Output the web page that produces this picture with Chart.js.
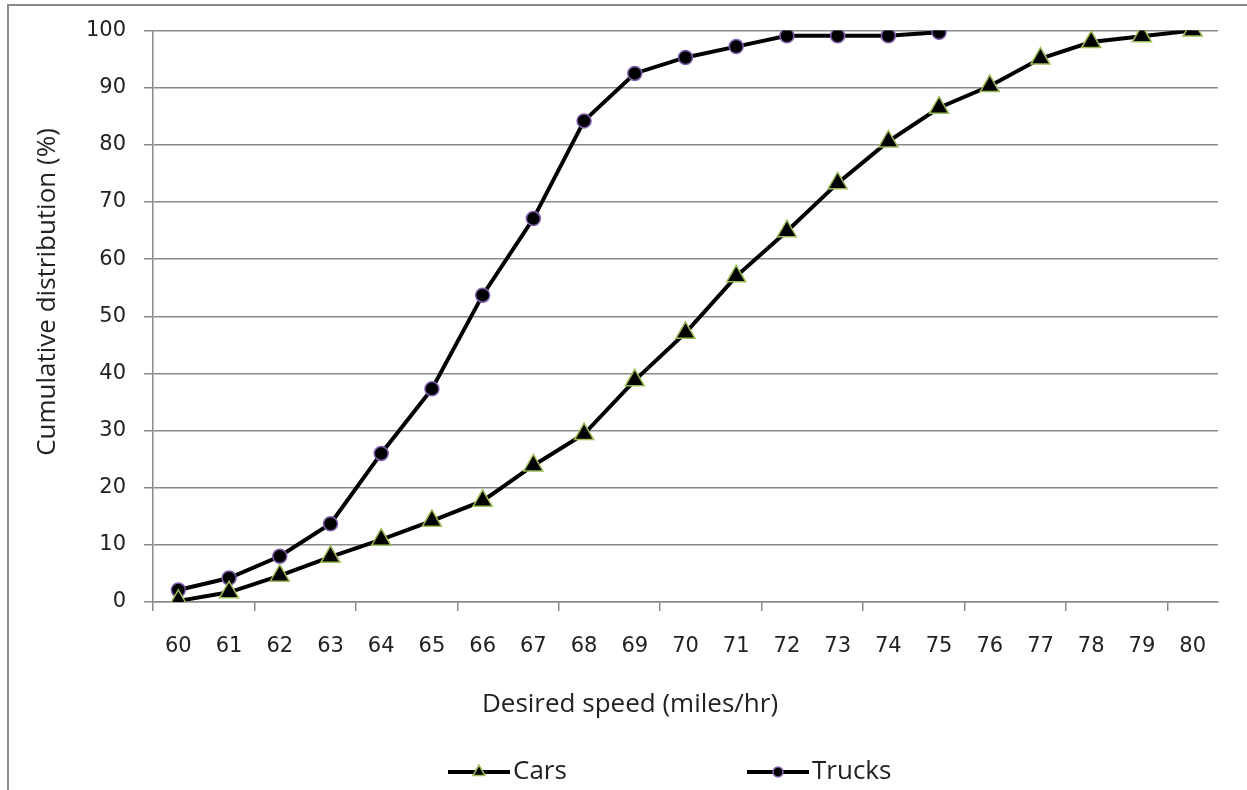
<!DOCTYPE html>
<html>
<head>
<meta charset="utf-8">
<script src="https://cdn.jsdelivr.net/npm/chart.js@4.4.1/dist/chart.umd.min.js"></script>
<style>
  body { margin: 0; background: #fff; }
</style>
</head>
<body>
<canvas id="grafico" width="1247" height="790"></canvas>
<script>
// velocidades (mph) e distribuições acumuladas (%)
const velocidades = ['60', '61', '62', '63', '64', '65', '66', '67', '68', '69', '70',
  '71', '72', '73', '74', '75', '76', '77', '78', '79', '80'];
const carros = [0.2, 1.7, 4.6, 7.9, 10.9, 14.2, 17.7, 23.9, 29.4, 38.8, 47.1,
  57.0, 64.9, 73.3, 80.6, 86.5, 90.3, 95.1, 98.0, 99.0, 100];
const caminhoes = [2.1, 4.2, 8.0, 13.7, 26.0, 37.3, 53.7, 67.1, 84.2, 92.5, 95.3,
  97.2, 99.1, 99.1, 99.1, 99.7];
const eixoY = { min: 0, max: 100, passo: 10 };
const tituloX = 'Desired speed (miles/hr)';
const tituloY = 'Cumulative distribution (%)';

const CINZA = '#8a8a8a';
const TEXTO = '#222';
const FONTE_TITULO = '26px "Open Sans"';

// moldura do gráfico (só topo e lado esquerdo aparecem)
const moldura = {
  id: 'moldura',
  beforeDraw(chart) {
    const ctx = chart.ctx;
    ctx.save();
    ctx.fillStyle = '#fff';
    ctx.fillRect(0, 0, chart.width, chart.height);
    ctx.strokeStyle = CINZA;
    ctx.lineWidth = 2;
    ctx.beginPath();
    ctx.moveTo(8, chart.height);
    ctx.lineTo(8, 5);
    ctx.lineTo(chart.width, 5);
    ctx.stroke();
    ctx.restore();
  }
};

// títulos dos eixos, centrados na moldura e não na área do gráfico
const titulos = {
  id: 'titulos',
  afterDraw(chart, args, opts) {
    const ctx = chart.ctx;
    ctx.save();
    ctx.fillStyle = TEXTO;
    ctx.font = FONTE_TITULO;
    ctx.textAlign = 'center';
    ctx.textBaseline = 'middle';
    ctx.fillText(tituloX, opts.x[0], opts.x[1]);
    ctx.translate(opts.y[0], opts.y[1]);
    ctx.rotate(-Math.PI / 2);
    ctx.fillText(tituloY, 0, 0);
    ctx.restore();
  }
};

// legenda no estilo linha-marcador-linha
const legendaLinha = {
  id: 'legendaLinha',
  afterDraw(chart, args, opts) {
    const ctx = chart.ctx;
    ctx.save();
    chart.data.datasets.forEach((ds, i) => {
      const x = opts.x + i * opts.slot;
      const y = opts.y;
      ctx.strokeStyle = ds.borderColor;
      ctx.lineWidth = 4;
      ctx.beginPath();
      ctx.moveTo(x, y);
      ctx.lineTo(x + opts.comprimento, y);
      ctx.stroke();

      ctx.fillStyle = ds.pointBackgroundColor;
      ctx.strokeStyle = ds.pointBorderColor;
      ctx.lineWidth = ds.pointBorderWidth;
      Chart.helpers.drawPoint(ctx, {
        pointStyle: ds.pointStyle,
        rotation: 0,
        radius: opts.raios[i],
        borderWidth: ds.pointBorderWidth
      }, x + opts.comprimento / 2, y);

      ctx.fillStyle = TEXTO;
      ctx.font = FONTE_TITULO;
      ctx.textBaseline = 'middle';
      ctx.textAlign = 'left';
      ctx.fillText(ds.label, x + opts.comprimento + 3, y);
    });
    ctx.restore();
  }
};

const canva = document.getElementById('grafico');

new Chart(canva, {
  type: 'line',
  data: {
    labels: velocidades,
    datasets: [{
      label: 'Cars',
      data: carros,
      borderColor: '#000',
      borderWidth: 4,
      pointStyle: 'triangle',
      pointRadius: 11,
      pointBackgroundColor: '#000',
      pointBorderColor: '#9bbb59',
      pointBorderWidth: 1.5,
      tension: 0
    }, {
      label: 'Trucks',
      data: caminhoes,
      borderColor: '#000',
      borderWidth: 4,
      pointStyle: 'circle',
      pointRadius: 7,
      pointBackgroundColor: '#000',
      pointBorderColor: '#7f5fb0',
      pointBorderWidth: 1.5,
      tension: 0
    }]
  },
  options: {
    responsive: false,
    animation: false,
    layout: {
      padding: { left: 0, top: 25, right: 29, bottom: 60 }
    },
    plugins: {
      legend: { display: false },
      tooltip: { enabled: false },
      titulos: {
        x: [630, 705],
        y: [48, 292]
      },
      legendaLinha: {
        x: 448,
        y: 772,
        slot: 299,
        comprimento: 62,
        raios: [7, 5]
      }
    },
    scales: {
      x: {
        type: 'category',
        offset: true,
        grid: {
          offset: true,
          drawOnChartArea: false,
          tickLength: 9,
          lineWidth: 1.5,
          color: ctx => (ctx.index !== undefined && ctx.index % 2 === 0) ? CINZA : 'rgba(0,0,0,0)'
        },
        border: { color: CINZA, width: 1.5 },
        ticks: {
          color: TEXTO,
          font: { family: 'DejaVu Sans', size: 21 },
          padding: 23,
          maxRotation: 0,
          autoSkip: false
        },
        afterFit: escala => { escala.height = 128; }
      },
      y: {
        min: eixoY.min,
        max: eixoY.max,
        grid: { color: CINZA, lineWidth: 1.5, tickLength: 9 },
        border: { color: CINZA, width: 1.5 },
        ticks: {
          stepSize: eixoY.passo,
          color: TEXTO,
          font: { family: 'DejaVu Sans', size: 21 },
          padding: 18
        },
        afterFit: escala => { escala.width = 153; }
      }
    }
  },
  plugins: [moldura, titulos, legendaLinha]
});
</script>
</body>
</html>
